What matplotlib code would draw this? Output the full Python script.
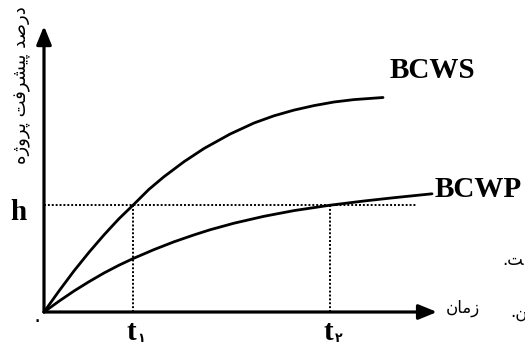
import matplotlib
matplotlib.use("Agg")
import matplotlib.pyplot as plt

# ---------------- DATA ----------------
# (time: 1 unit = 4 px, progress: 1 unit = 3 px)
bcws_t = [0, 3.75, 7.5, 11.25, 15, 18.75, 22.25, 26.25, 30, 35, 40, 46.5,
          52.5, 57.5, 62.5, 67.5, 72.5, 77.5, 84.75]
bcws_p = [0, 7.0, 13.7, 19.9, 25.7, 31.1, 35.6, 40.9, 45.1, 50.1, 54.5, 59.3,
          63.0, 65.4, 67.3, 68.8, 70.0, 70.8, 71.5]

bcwp_t = [0, 3.75, 7.5, 11.25, 15, 18.75, 22.25, 27.5, 32.5, 37.5, 41.5, 47.5,
          55, 62.5, 71.5, 80, 87.5, 97]
bcwp_p = [0, 3.6, 7.0, 10.1, 13.0, 15.6, 17.8, 20.8, 23.4, 25.7, 27.4, 29.6,
          31.9, 33.8, 35.6, 37.0, 38.1, 39.4]

h_level = 35.6
t_marks = [22.25, 71.5]
t_subs = ["۱", "۲"]
series_names = ["BCWS", "BCWP"]
x_title = "زمان"
y_title = "درصد پیشرفت پروژه"
origin_label = "۰"
edge_bits = ["ت.", "ن."]

# ---------------- PERSIAN SHAPING ----------------
# isolated, final, initial, medial
FORMS = {
    "د": ("\uFEA9", "\uFEAA"), "ر": ("\uFEAD", "\uFEAE"), "ز": ("\uFEAF", "\uFEB0"),
    "ژ": ("\uFB8A", "\uFB8B"), "و": ("\uFEED", "\uFEEE"), "ا": ("\uFE8D", "\uFE8E"),
    "ص": ("\uFEB9", "\uFEBA", "\uFEBB", "\uFEBC"),
    "پ": ("\uFB56", "\uFB57", "\uFB58", "\uFB59"),
    "ی": ("\uFBFC", "\uFBFD", "\uFBFE", "\uFBFF"),
    "ش": ("\uFEB5", "\uFEB6", "\uFEB7", "\uFEB8"),
    "ف": ("\uFED1", "\uFED2", "\uFED3", "\uFED4"),
    "ت": ("\uFE95", "\uFE96", "\uFE97", "\uFE98"),
    "ه": ("\uFEE9", "\uFEEA", "\uFEEB", "\uFEEC"),
    "م": ("\uFEE1", "\uFEE2", "\uFEE3", "\uFEE4"),
    "ن": ("\uFEE5", "\uFEE6", "\uFEE7", "\uFEE8"),
}


def shape(s, joined_before=False):
    out = []
    for i, c in enumerate(s):
        if c not in FORMS:
            out.append(c)
            continue
        prev = s[i - 1] if i > 0 else None
        nxt = s[i + 1] if i + 1 < len(s) else None
        jp = (prev in FORMS and len(FORMS[prev]) == 4) or (i == 0 and joined_before)
        jn = len(FORMS[c]) == 4 and nxt in FORMS
        f = FORMS[c]
        if jp and jn:
            out.append(f[3])
        elif jp:
            out.append(f[1])
        elif jn:
            out.append(f[2])
        else:
            out.append(f[0])
    return "".join(reversed(out))


# ---------------- FIGURE ----------------
fig = plt.figure(figsize=(5.25, 3.51), dpi=100)
ax = fig.add_axes([0, 0, 1, 1])
ax.set_xlim(-11, 120.25)
ax.set_ylim(-13, 104)
ax.axis("off")

# axes with arrow heads
arrow = dict(arrowstyle="-|>,head_length=1.1,head_width=0.45", lw=2.3,
             color="black", mutation_scale=10, shrinkA=0, shrinkB=0)
ax.annotate("", xy=(98.25, 0), xytext=(0, 0), arrowprops=arrow)
ax.annotate("", xy=(0, 95.3), xytext=(0, 0), arrowprops=arrow)

# curves
ax.plot(bcws_t, bcws_p, color="black", lw=2.0, solid_capstyle="round",
        solid_joinstyle="round")
ax.plot(bcwp_t, bcwp_p, color="black", lw=2.0, solid_capstyle="round",
        solid_joinstyle="round")

# dotted guides
dots = dict(color="black", lw=1.4, linestyle=(0, (1, 1)))
ax.plot([0, 93.25], [h_level, h_level], **dots)
for tm in t_marks:
    ax.plot([tm, tm], [0, h_level], **dots)

# labels
serif = "Liberation Serif"
ax.text(86.5, 78, series_names[0], fontsize=21, fontweight="bold", family=serif,
        ha="left", va="baseline")
ax.text(97.75, 38.3, series_names[1], fontsize=21, fontweight="bold", family=serif,
        ha="left", va="baseline")
ax.text(-6.5, 30.7, "h", fontsize=21, fontweight="bold", family=serif,
        ha="center", va="baseline")

for tm, sub in zip(t_marks, t_subs):
    ax.text(tm - 0.3, -9.4, "t", fontsize=21, fontweight="bold", family=serif,
            ha="center", va="baseline")
    ax.text(tm + 1.1, -10.0, sub, fontsize=9, fontweight="bold", family="DejaVu Sans",
            ha="left", va="baseline")

ax.text(-1.75, -2.9, origin_label, fontsize=15, family="DejaVu Sans",
        ha="center", va="center")
ax.text(104.6, 1.3, shape(x_title), fontsize=12, family="DejaVu Sans",
        ha="center", va="center")
ax.text(-5.5, 75.7, shape(y_title), fontsize=13, family="DejaVu Sans",
        rotation=90, ha="center", va="center")

# cut-off words at the right edge of the scan
ax.text(114.5, 17.3, shape(edge_bits[0], True), fontsize=12, family="DejaVu Sans",
        ha="left", va="center")
ax.text(116.5, 0, shape(edge_bits[1], True), fontsize=12, family="DejaVu Sans",
        ha="left", va="center")

fig.savefig("out.png", dpi=100)
